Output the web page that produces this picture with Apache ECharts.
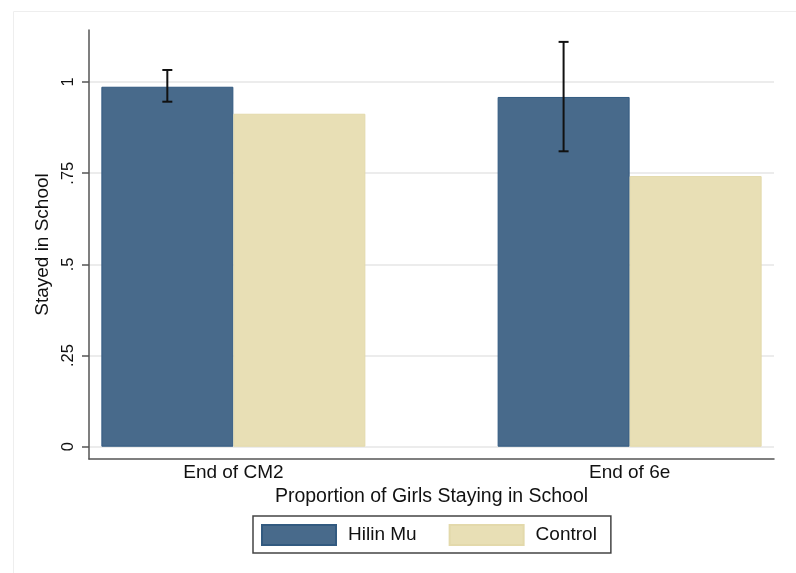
<!DOCTYPE html>
<html>
<head>
<meta charset="utf-8">
<script src="https://cdn.jsdelivr.net/npm/echarts@6/dist/echarts.min.js"></script>
<style>
  html, body { margin: 0; padding: 0; background: #fff; }
  #chart { width: 796px; height: 573px; }
</style>
</head>
<body>
<div id="chart"></div>
<script>
// Share of girls still enrolled, by grade and group
const categories = ['End of CM2', 'End of 6e'];
const seriesNames = ['Hilin Mu', 'Control'];
const hilinMu = [0.987, 0.959];
const control = [0.913, 0.742];
// 95% confidence interval for the Hilin Mu bars
const hilinMuLow = [0.946, 0.810];
const hilinMuHigh = [1.033, 1.110];
// y axis ticks and their printed labels
const yTickValues = [0, 0.25, 0.5, 0.75, 1];
const yTickLabels = ['0', '.25', '.5', '.75', '1'];

const FONT = '"Liberation Sans", Arial, Helvetica, sans-serif';
const BLUE = '#486a8b';
const TAN = '#e8dfb5';

// groups sit 3 bar-widths apart on a numeric x scale
const groupX = categories.map((c, i) => 1 + 3 * i);
const labelFor = v => {
  const i = groupX.findIndex(g => Math.abs(g - v) < 1e-6);
  return i >= 0 ? categories[i] : '';
};

const chart = echarts.init(document.getElementById('chart'), null, { renderer: 'canvas' });

chart.setOption({
  backgroundColor: '#ffffff',
  animation: false,
  textStyle: { fontFamily: FONT },
  graphic: [{
    type: 'rect',
    left: 11, top: 9,
    shape: { width: 783, height: 580 },
    style: { fill: 'none', stroke: '#eeeeee', lineWidth: 1 },
    silent: true
  }],
  grid: { left: 89, right: 22, top: 30, bottom: 114, containLabel: false },
  legend: {
    data: seriesNames,
    left: 253, top: 516,
    orient: 'horizontal',
    itemWidth: 74, itemHeight: 20, itemGap: 32,
    padding: [8, 14, 7, 8],
    borderColor: '#444', borderWidth: 1.5,
    icon: 'rect',
    textStyle: { fontFamily: FONT, fontSize: 19, color: '#111', padding: [0, 0, 0, 7] },
    selectedMode: false
  },
  xAxis: {
    type: 'value',
    min: -0.093, max: 5.093,
    name: 'Proportion of Girls Staying in School',
    nameLocation: 'middle', nameGap: 25,
    nameTextStyle: { fontFamily: FONT, fontSize: 19.5, color: '#111' },
    axisLine: { show: true, onZero: false, lineStyle: { color: '#555', width: 1.5 } },
    axisTick: { show: false, customValues: groupX },
    axisLabel: {
      customValues: groupX, margin: 4,
      formatter: v => labelFor(v),
      fontFamily: FONT, fontSize: 19, color: '#111'
    },
    splitLine: { show: false }
  },
  yAxis: {
    type: 'value',
    min: -0.0337, max: 1.1426,
    name: 'Stayed in School',
    nameLocation: 'middle', nameGap: 35, nameRotate: 90,
    nameTextStyle: { fontFamily: FONT, fontSize: 19, color: '#111' },
    axisLine: { show: true, onZero: false, lineStyle: { color: '#555', width: 1.5 } },
    axisTick: { show: true, length: 7, customValues: yTickValues, lineStyle: { color: '#555', width: 1.5 } },
    axisLabel: {
      customValues: yTickValues, rotate: 90, margin: 12,
      formatter: v => {
        const i = yTickValues.findIndex(t => Math.abs(t - v) < 1e-6);
        return i >= 0 ? yTickLabels[i] : '';
      },
      fontFamily: FONT, fontSize: 16.5, color: '#111'
    },
    splitLine: { show: true, lineStyle: { color: '#e6e6e6', width: 1.5 } }
  },
  series: [
    {
      name: seriesNames[0], type: 'bar',
      barWidth: 132, barGap: '0%',
      data: hilinMu.map((v, i) => [groupX[i], v]),
      itemStyle: { color: BLUE, borderColor: '#325a80', borderWidth: 1 }
    },
    {
      name: seriesNames[1], type: 'bar',
      barWidth: 132, barGap: '0%',
      data: control.map((v, i) => [groupX[i], v]),
      itemStyle: { color: TAN, borderColor: '#e3d9ab', borderWidth: 1 }
    },
    {
      name: 'ci', type: 'custom',
      silent: true, z: 10,
      data: hilinMuLow.map((lo, i) => [groupX[i] - 0.5, lo, hilinMuHigh[i]]),
      encode: { x: 0, y: [1, 2] },
      renderItem: (params, api) => {
        const x = api.value(0);
        const lo = api.coord([x, api.value(1)]);
        const hi = api.coord([x, api.value(2)]);
        const cap = 5;
        const st = { stroke: '#111', lineWidth: 2 };
        return {
          type: 'group',
          children: [
            { type: 'line', shape: { x1: lo[0], y1: lo[1], x2: hi[0], y2: hi[1] }, style: st },
            { type: 'line', shape: { x1: hi[0] - cap, y1: hi[1], x2: hi[0] + cap, y2: hi[1] }, style: st },
            { type: 'line', shape: { x1: lo[0] - cap, y1: lo[1], x2: lo[0] + cap, y2: lo[1] }, style: st }
          ]
        };
      }
    }
  ]
});
</script>
</body>
</html>
